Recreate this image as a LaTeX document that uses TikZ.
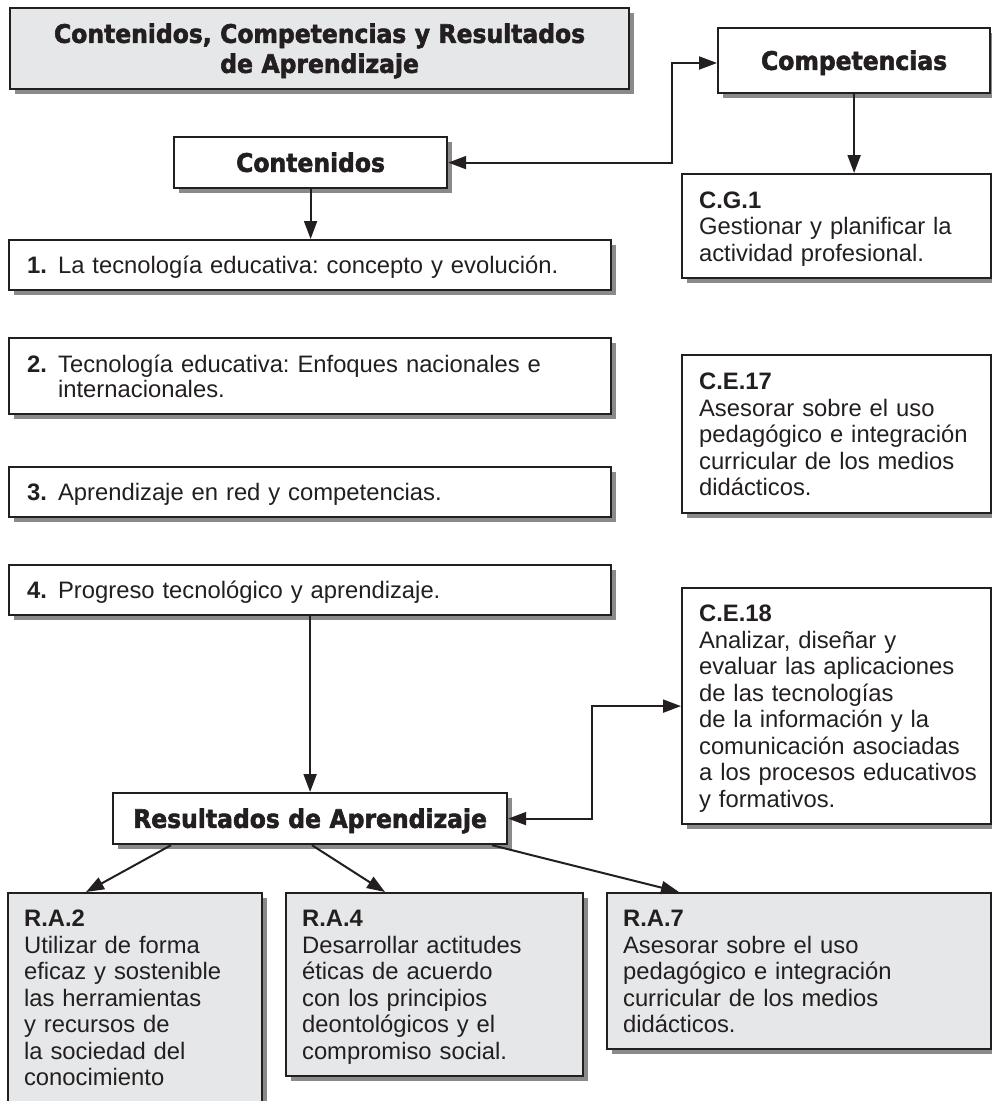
\documentclass[tikz,border=0pt]{standalone}
\usepackage{fontspec}
\setmainfont{Liberation Sans}
\newfontfamily\headfont{DejaVu Sans}[FakeStretch=0.92, BoldFeatures={FakeBold=2.2}]
\usetikzlibrary{arrows.meta,shadows,calc}
\definecolor{ink}{HTML}{231F20}
\definecolor{boxgray}{HTML}{E6E7E8}
\definecolor{shadegray}{HTML}{8A8A8A}
\frenchspacing
\tikzset{
  basebox/.style={draw=ink, line width=2.2pt, fill=white, anchor=north west,
    inner ysep=0pt, inner xsep=0pt, text=ink,
    drop shadow={shadow xshift=5pt, shadow yshift=-5pt, fill=shadegray, opacity=1}},
  graybox/.style={basebox, fill=boxgray},
  dims/.style args={#1x#2}{minimum width=#1pt, minimum height=#2pt, text width=#1pt},
  body/.style={font=\fontsize{23.8}{26.5}\selectfont\frenchspacing, align=left},
  lpad/.style={execute at begin node={\leftskip=#1pt\relax}},
  nlines/.style={text height=17.2pt, text depth=#1pt},
  head/.style={font=\headfont\bfseries\fontsize{25.5}{30}\selectfont, align=center,
    text height=18.5pt, text depth=0pt},
  conn/.style={draw=ink, line width=2pt, -{Triangle[length=18pt,width=13pt]}},
  dconn/.style={draw=ink, line width=2pt, {Triangle[length=18pt,width=13pt]}-{Triangle[length=18pt,width=13pt]}}
}
\begin{document}
\begin{tikzpicture}[x=1pt,y=-1pt]
\useasboundingbox (0,0) rectangle (992,1101);
\fill[white] (0,0) rectangle (992,1101);

% headings
\node[graybox, dims=619x81, head, text depth=30pt] (title) at (9,7)
  {Contenidos, Competencias y Resultados\\de Aprendizaje};
\node[basebox, dims=273x51, head] (cont) at (173,136) {Contenidos};
\node[basebox, dims=272x65, head] (comp) at (717,27) {Competencias};
\node[basebox, dims=394x51, head] (res) at (112,792) {Resultados de Aprendizaje};

% contenidos
\node[basebox, dims=602x50, body, lpad=18, nlines=0] (it1) at (8,239)
  {\makebox[31pt][l]{\textbf{1.}}La tecnología educativa: concepto y evolución.};
\node[basebox, dims=602x76, body, lpad=18, nlines=25] (it2) at (8,337)
  {\makebox[31pt][l]{\textbf{2.}}Tecnología educativa: Enfoques nacionales e\\[-1.5pt]\hspace*{31pt}internacionales.};
\node[basebox, dims=602x50, body, lpad=18, nlines=0] (it3) at (8,466)
  {\makebox[31pt][l]{\textbf{3.}}Aprendizaje en red y competencias.};
\node[basebox, dims=602x50, body, lpad=18, nlines=0] (it4) at (8,564)
  {\makebox[31pt][l]{\textbf{4.}}Progreso tecnológico y aprendizaje.};

% competencias
\node[basebox, dims=309x104, body, lpad=17, nlines=53] (cg1) at (681,173)
  {\textbf{C.G.1}\\Gestionar y planificar la\\actividad profesional.};
\node[basebox, dims=309x158, body, lpad=17, nlines=106] (ce17) at (681,354)
  {\textbf{C.E.17}\\Asesorar sobre el uso\\pedagógico e integración\\curricular de los medios\\didácticos.};
\node[basebox, dims=309x236, body, lpad=17, nlines=185.5] (ce18) at (681,587)
  {\textbf{C.E.18}\\Analizar, diseñar y\\evaluar las aplicaciones\\de las tecnologías\\de la información y la\\comunicación asociadas\\a los procesos educativos\\y formativos.};

% resultados
\node[graybox, dims=254x218, body, lpad=16, nlines=168] (ra2) at (7,892)
  {\textbf{R.A.2}\\Utilizar de forma\\eficaz y sostenible\\las herramientas\\y recursos de\\la sociedad del\\conocimiento};
\node[graybox, dims=297x183, body, lpad=16, nlines=132.5] (ra4) at (285,892)
  {\textbf{R.A.4}\\Desarrollar actitudes\\éticas de acuerdo\\con los principios\\deontológicos y el\\compromiso social.};
\node[graybox, dims=384x156, body, lpad=16, nlines=106] (ra7) at (606,892)
  {\textbf{R.A.7}\\Asesorar sobre el uso\\pedagógico e integración\\curricular de los medios\\didácticos.};

% connectors
\coordinate (cA) at (672,63);
\coordinate (cB) at (592,760);
\draw[dconn] (cont.east) -- (cont.east -| cA) -- (cA) -- (cA -| comp.west);
\draw[conn] (cont.south) -- (cont.south |- it1.north);
\draw[conn] (comp.south) -- (comp.south |- cg1.north);
\draw[conn] (it4.south -| res.north) -- (res.north);
\draw[dconn] (res.east) -- (res.east -| cB) -- (cB |- ce18.west) -- (ce18.west);
\draw[conn] ($(res.south west)+(59,0)$) -- ($(ra2.north west)+(79,0)$);
\draw[conn] ($(res.south west)+(200,0)$) -- ($(ra4.north west)+(100,0)$);
\draw[conn] ($(res.south west)+(380,0)$) -- ($(ra7.north west)+(73,0)$);
\end{tikzpicture}
\end{document}
